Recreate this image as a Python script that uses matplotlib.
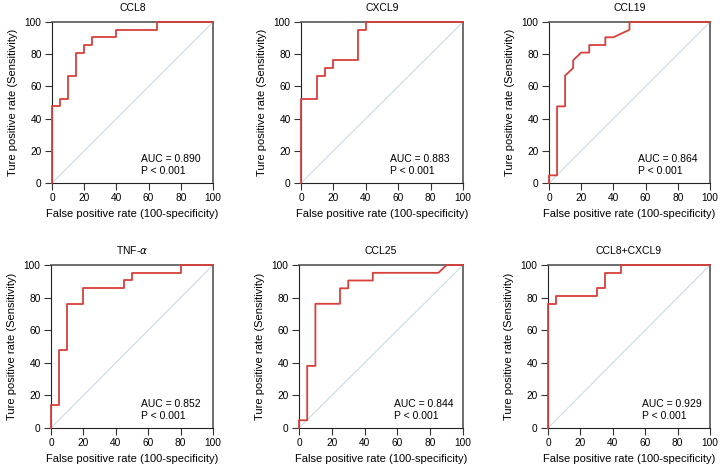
import matplotlib
matplotlib.use("Agg")
import matplotlib.pyplot as plt

plt.rcParams['font.family'] = ['Liberation Sans', 'DejaVu Sans']

titles = ["CCL8", "CXCL9", "CCL19", "TNF-$\\alpha$", "CCL25", "CCL8+CXCL9"]
auc_values = ["0.890", "0.883", "0.864", "0.852", "0.844", "0.929"]
p_values = ["< 0.001"] * 6

fpr_ccl8 = [0, 0, 5, 5, 10, 10, 15, 15, 20, 20, 25, 25, 40, 40, 65, 65, 100]
tpr_ccl8 = [0, 47.6, 47.6, 52.4, 52.4, 66.7, 66.7, 81.0, 81.0, 85.7, 85.7, 90.5, 90.5, 95.2, 95.2, 100, 100]

fpr_cxcl9 = [0, 0, 10, 10, 15, 15, 20, 20, 35, 35, 40, 40, 100]
tpr_cxcl9 = [0, 52.4, 52.4, 66.7, 66.7, 71.4, 71.4, 76.2, 76.2, 95.2, 95.2, 100, 100]

fpr_ccl19 = [0, 0, 5, 5, 10, 10, 15, 15, 20, 25, 25, 35, 35, 40, 50, 50, 100]
tpr_ccl19 = [0, 4.76, 4.76, 47.6, 47.6, 66.7, 71.4, 76.2, 81.0, 81.0, 85.7, 85.7, 90.5, 90.5, 95.2, 100, 100]

fpr_tnfa = [0, 0, 5, 5, 10, 10, 20, 20, 45, 45, 50, 50, 80, 80, 100]
tpr_tnfa = [0, 14.3, 14.3, 47.6, 47.6, 76.2, 76.2, 85.7, 85.7, 90.5, 90.5, 95.2, 95.2, 100, 100]

fpr_ccl25 = [0, 0, 5, 5, 10, 10, 25, 25, 30, 30, 45, 45, 85, 90, 100]
tpr_ccl25 = [0, 4.76, 4.76, 38.1, 38.1, 76.2, 76.2, 85.7, 85.7, 90.5, 90.5, 95.2, 95.2, 100, 100]

fpr_combo = [0, 0, 5, 5, 30, 30, 35, 35, 45, 45, 100]
tpr_combo = [0, 76.2, 76.2, 81.0, 81.0, 85.7, 85.7, 95.2, 95.2, 100, 100]

curves = [(fpr_ccl8, tpr_ccl8), (fpr_cxcl9, tpr_cxcl9), (fpr_ccl19, tpr_ccl19),
          (fpr_tnfa, tpr_tnfa), (fpr_ccl25, tpr_ccl25), (fpr_combo, tpr_combo)]

ticks = [0, 20, 40, 60, 80, 100]

W, H = 722, 466
fig = plt.figure(figsize=(W / 100, H / 100), dpi=100)

# axes boxes in pixels: left, top, right, bottom
boxes = [
    (52, 22, 213, 183), (301, 22, 463, 183), (549, 22, 710, 183),
    (51, 265, 213, 428), (299, 265, 463, 428), (548, 265, 710, 428),
]
text_x = [0.55, 0.55, 0.55, 0.556, 0.58, 0.58]

red = '#d8403a'
for i, (box, (fx, ty)) in enumerate(zip(boxes, curves)):
    l, t, r, b = box
    ax = fig.add_axes([l / W, 1 - b / H, (r - l) / W, (b - t) / H])
    ax.plot([0, 100], [0, 100], color='#c9dbe6', lw=0.8, zorder=1)
    ax.plot(fx, ty, color=red, lw=1.3, zorder=3, clip_on=False)
    ax.set_xlim(0, 100)
    ax.set_ylim(0, 100)
    ax.set_xticks(ticks)
    ax.set_yticks(ticks)
    ax.tick_params(direction='out', length=5, width=0.8, labelsize=7.3, pad=2.5, color='#333333')
    for s in ['left', 'bottom']:
        ax.spines[s].set_color('#222222')
        ax.spines[s].set_linewidth(0.8)
    for s in ['top', 'right']:
        ax.spines[s].set_color('#555555')
        ax.spines[s].set_linewidth(1.2)
    ax.set_title(titles[i], fontsize=7.5, pad=8)
    ax.set_xlabel("False positive rate (100-specificity)", fontsize=8, labelpad=4)
    ax.set_ylabel("Ture positive rate (Sensitivity)", fontsize=8, labelpad=5)
    ax.text(text_x[i], 0.13, "AUC = " + auc_values[i], transform=ax.transAxes, fontsize=7.5)
    ax.text(text_x[i], 0.055, "P " + p_values[i], transform=ax.transAxes, fontsize=7.5)

fig.savefig("out.png", dpi=100, facecolor='white')
